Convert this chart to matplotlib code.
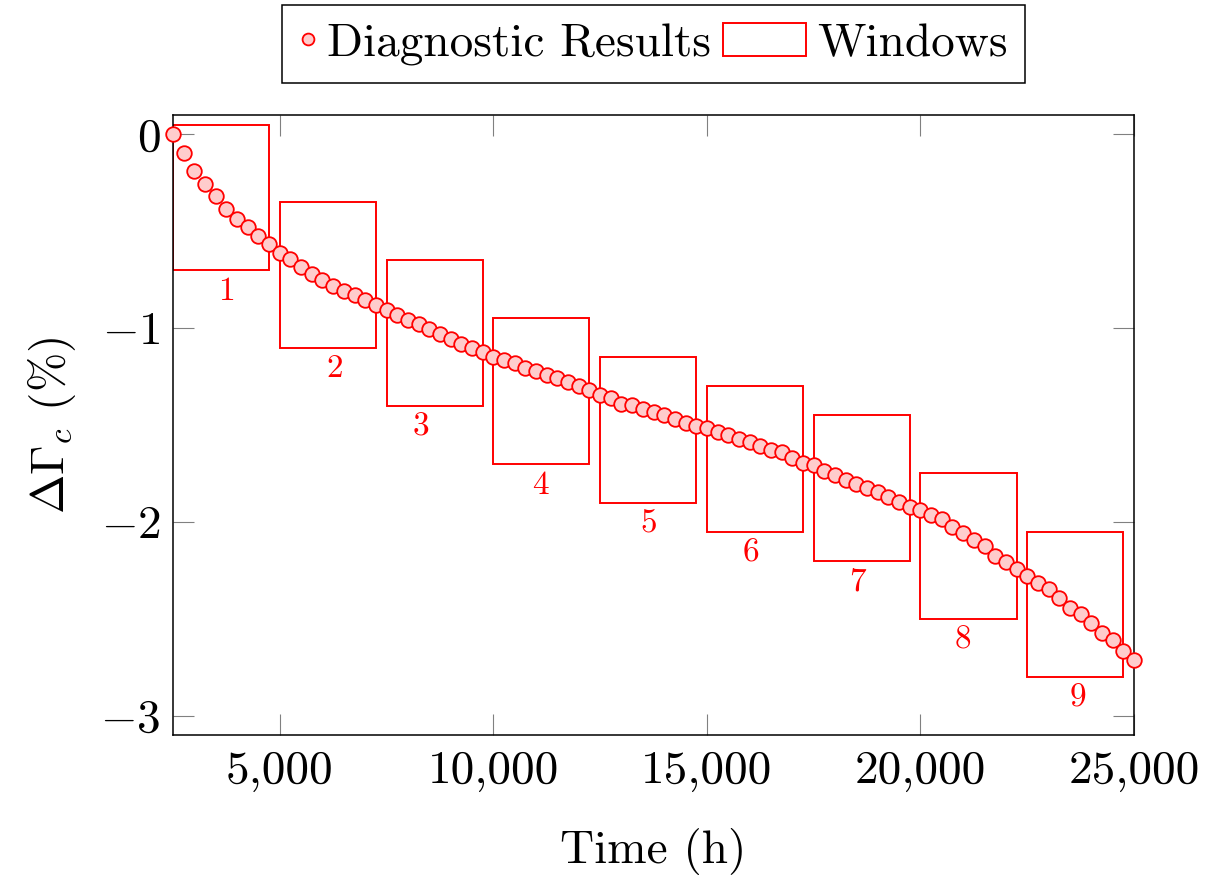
import matplotlib
matplotlib.use("Agg")
import matplotlib.pyplot as plt
from matplotlib.patches import Rectangle
from matplotlib.legend_handler import HandlerPatch, HandlerLine2D
from matplotlib.lines import Line2D

# ---------------- data ----------------
time_h = [2500 + 250 * i for i in range(91)]
delta_gamma = [
    0.0, -0.094, -0.19, -0.254, -0.32, -0.385, -0.436, -0.48, -0.524, -0.568,
    -0.611, -0.644, -0.685, -0.72, -0.75, -0.78, -0.81, -0.83, -0.855, -0.883,
    -0.906, -0.933, -0.957, -0.98, -1.005, -1.029, -1.055, -1.081, -1.101, -1.122,
    -1.148, -1.166, -1.18, -1.206, -1.22, -1.24, -1.259, -1.28, -1.299, -1.32,
    -1.345, -1.362, -1.39, -1.398, -1.418, -1.435, -1.45, -1.467, -1.49, -1.507,
    -1.514, -1.536, -1.553, -1.571, -1.588, -1.608, -1.63, -1.639, -1.668, -1.697,
    -1.706, -1.735, -1.756, -1.784, -1.806, -1.827, -1.847, -1.87, -1.899, -1.921,
    -1.938, -1.962, -1.986, -2.024, -2.058, -2.096, -2.124, -2.174, -2.205, -2.244,
    -2.28, -2.313, -2.349, -2.393, -2.442, -2.476, -2.522, -2.571, -2.608, -2.668,
    -2.715,
]

window_start = [2500, 5000, 7500, 10000, 12500, 15000, 17500, 20000, 22500]
window_width = [2250] * 9
window_top = [0.05, -0.35, -0.65, -0.95, -1.15, -1.30, -1.45, -1.75, -2.05]
window_height = [0.75] * 9
window_labels = ["1", "2", "3", "4", "5", "6", "7", "8", "9"]
window_label_x = [3760, 6290, 8300, 11100, 13630, 16040, 18530, 20990, 23690]

xticks = [5000, 10000, 15000, 20000, 25000]
xtick_labels = ["5,000", "10,000", "15,000", "20,000", "25,000"]
yticks = [0, -1, -2, -3]
ytick_labels = [r"$0$", r"$-1$", r"$-2$", r"$-3$"]

# ---------------- style ----------------
plt.rcParams["font.family"] = ["cmr10", "DejaVu Serif"]
plt.rcParams["mathtext.fontset"] = "cm"
plt.rcParams["axes.formatter.use_mathtext"] = True
FS = 34

fig = plt.figure(figsize=(12.12, 8.75), dpi=100)
ax = fig.add_axes([173 / 1212, 1 - 735 / 875, (1134 - 173) / 1212, (735 - 115) / 875])

RED = "#ff0000"
PINK = "#ffcccc"

# windows
for xs, w, top, h, lab, lx in zip(window_start, window_width, window_top, window_height,
                                  window_labels, window_label_x):
    ax.add_patch(Rectangle((xs, top - h), w, h, fill=False, edgecolor=RED, linewidth=1.4, zorder=2))
    ax.annotate(lab, xy=(lx, top - h), xytext=(0, -5), textcoords="offset points",
                ha="center", va="top", color=RED, fontsize=24)

# diagnostic results
ax.plot(time_h, delta_gamma, linestyle="none", marker="o", markersize=10.5,
        markerfacecolor=PINK, markeredgecolor=RED, markeredgewidth=1.3, zorder=3, clip_on=False)

ax.set_xlim(2500, 25000)
ax.set_ylim(-3.1, 0.1)
ax.set_xticks(xticks)
ax.set_xticklabels(xtick_labels)
ax.set_yticks(yticks)
ax.set_yticklabels(ytick_labels)
ax.tick_params(direction="in", length=15, width=0.8, color="0.5", labelsize=FS,
               top=True, right=True)
ax.tick_params(axis="x", pad=11)
ax.tick_params(axis="y", pad=9)
for s in ax.spines.values():
    s.set_linewidth(1.1)
    s.set_color("black")

ax.set_xlabel("Time (h)", fontsize=FS, labelpad=26)
ax.set_ylabel(r"$\Delta\Gamma_c$ (%)", fontsize=FS, labelpad=16)

# legend
class MarkerHandler(HandlerLine2D):
    def get_xdata(self, legend, xdescent, ydescent, width, height, fontsize):
        xd, xm = super().get_xdata(legend, xdescent, ydescent, width, height, fontsize)
        return xd, [width * 0.5 - xdescent]

def wide_rect(legend, orig_handle, xdescent, ydescent, width, height, fontsize):
    extra = 1.42 * fontsize
    return Rectangle((-xdescent - extra, -ydescent), width + extra, height)

h1 = Line2D([], [], linestyle="none", marker="o", markersize=8.5,
            markerfacecolor=PINK, markeredgecolor=RED, markeredgewidth=1.3)
h2 = Rectangle((0, 0), 1, 1, fill=False, edgecolor=RED, linewidth=1.4)
leg = ax.legend([h1, h2], ["Diagnostic Results", "Windows"], ncol=2, fontsize=FS,
                loc="upper center", bbox_to_anchor=(0.5, 1 + (115 - 5) / 620),
                frameon=True, fancybox=False, edgecolor="black", framealpha=1,
                handlelength=0.35, handletextpad=0.22, columnspacing=1.68,
                borderpad=0.38, borderaxespad=0,
                handler_map={Line2D: MarkerHandler(numpoints=1),
                             Rectangle: HandlerPatch(patch_func=wide_rect)})
leg.get_frame().set_linewidth(1.1)

fig.savefig("out.png", dpi=100)
